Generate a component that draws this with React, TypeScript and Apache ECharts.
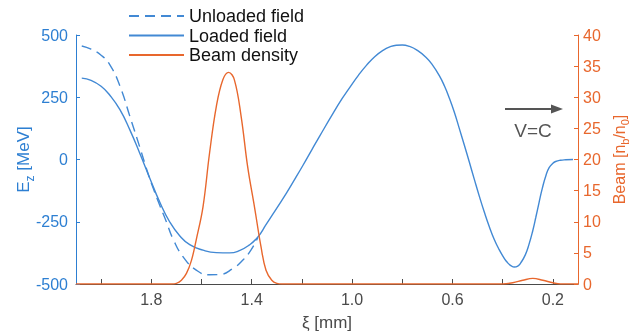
import React, { useEffect, useRef } from "react";
import * as echarts from "echarts";

// ξ [mm] positions and values
const loadedXi = [2.077, 2.04, 2.0, 1.965, 1.925, 1.885, 1.846, 1.806, 1.766, 1.727, 1.687, 1.647, 1.594, 1.541, 1.488, 1.449, 1.409, 1.376, 1.343, 1.3, 1.261, 1.23, 1.195, 1.16, 1.128, 1.076, 1.04, 1.009, 0.975, 0.943, 0.91, 0.877, 0.85, 0.824, 0.8, 0.771, 0.74, 0.705, 0.68, 0.652, 0.632, 0.612, 0.592, 0.573, 0.553, 0.533, 0.513, 0.493, 0.473, 0.454, 0.434, 0.414, 0.395, 0.381, 0.366, 0.354, 0.34, 0.328, 0.31, 0.295, 0.28, 0.268, 0.255, 0.242, 0.228, 0.215, 0.2, 0.189, 0.17, 0.149, 0.12];
const loadedE = [327, 318, 294, 258, 200, 118, 25, -75, -172, -250, -306, -342, -364, -374, -375, -366, -343, -312, -262, -195, -134, -82, -22, 40, 96, 185, 244, 290, 338, 378, 413, 438, 452, 459, 460, 454, 438, 410, 380, 336, 295, 245, 188, 125, 58, -10, -80, -148, -212, -268, -320, -362, -395, -414, -427, -432, -428, -415, -383, -340, -285, -232, -172, -115, -65, -33, -15, -8, -3, -1, 0];

const unloadedXi = [2.077, 2.04, 2.0, 1.965, 1.925, 1.885, 1.846, 1.815, 1.79, 1.766, 1.74, 1.713, 1.674, 1.621, 1.568, 1.528, 1.475, 1.435, 1.402, 1.376];
const unloadedE = [456, 443, 419, 380, 295, 172, 50, -50, -122, -185, -250, -320, -390, -444, -463, -462, -438, -404, -362, -314];

const beamXi = [2.1, 1.72, 1.7, 1.68, 1.66, 1.64, 1.621, 1.594, 1.568, 1.541, 1.515, 1.492, 1.469, 1.442, 1.416, 1.389, 1.363, 1.343, 1.32, 1.3, 1.28, 0.4, 0.36, 0.32, 0.28, 0.24, 0.2, 0.17, 0.1];
const beamN = [0, 0, 0.1, 0.6, 1.7, 3.8, 7.1, 12.4, 21.0, 28.5, 32.8, 34.0, 32.8, 26.9, 18.8, 12.4, 6.0, 2.2, 0.6, 0.1, 0, 0, 0.2, 0.6, 0.9, 0.6, 0.2, 0, 0];

const xLabelValues = [1.8, 1.4, 1.0, 0.6, 0.2];
const xTickValues = [2.0, 1.8, 1.6, 1.4, 1.2, 1.0, 0.8, 0.6, 0.4, 0.2];

const BLUE = "#4289d4";
const BLUE_TXT = "#2d7fd2";
const ORANGE = "#e8672d";
const GRAY = "#4a4a4a";
const FONT = "'Liberation Sans', Arial, sans-serif";

const zip = (a: number[], b: number[]) => a.map((v, i) => [v, b[i]]);

export default function App() {
  const ref = useRef<HTMLDivElement>(null);
  useEffect(() => {
    if (!ref.current) return;
    const chart = echarts.init(ref.current, null, { renderer: "svg" });
    chart.setOption({
      animation: false,
      textStyle: { fontFamily: FONT },
      grid: { left: 76, right: 53, top: 35, bottom: 51, containLabel: false, outerBoundsMode: "none" },
      legend: {
        orient: "vertical",
        left: 128,
        top: 7,
        padding: 0,
        itemWidth: 55,
        itemHeight: 14,
        itemGap: 1.5,
        itemStyle: { opacity: 0 },
        textStyle: { fontSize: 18, color: "#111", fontFamily: FONT, lineHeight: 18 },
        data: ["Unloaded field", "Loaded field", "Beam density"],
      },
      xAxis: {
        type: "value",
        min: 0.1,
        max: 2.1,
        inverse: true,
        name: "ξ [mm]",
        nameLocation: "middle",
        nameGap: 30,
        nameMoveOverlap: false,
        nameTextStyle: { fontSize: 17, color: GRAY, fontFamily: FONT },
        axisLine: { show: true, onZero: false, lineStyle: { color: GRAY, width: 1 } },
        axisTick: { show: true, inside: true, length: 5, customValues: xTickValues, lineStyle: { color: GRAY } },
        axisLabel: {
          customValues: xLabelValues,
          formatter: (v: number) => v.toFixed(1),
          fontSize: 16,
          color: GRAY,
          margin: 7,
          fontFamily: FONT,
        },
        splitLine: { show: false },
      },
      yAxis: [
        {
          type: "value",
          min: -500,
          max: 500,
          interval: 250,
          position: "left",
          name: "{a|E}{s|z}{a| [MeV]}",
          nameLocation: "middle",
          nameRotate: 90,
          nameGap: 44,
          nameMoveOverlap: false,
          nameTextStyle: {
            color: BLUE_TXT,
            rich: {
              a: { fontSize: 17, color: BLUE_TXT, fontFamily: FONT, verticalAlign: "bottom" },
              s: { fontSize: 12, color: BLUE_TXT, fontFamily: FONT, verticalAlign: "bottom", padding: [0, 0, -4, 0] },
            },
          },
          axisLine: { show: true, lineStyle: { color: BLUE_TXT } },
          axisTick: { show: true, inside: true, length: 4, lineStyle: { color: BLUE_TXT } },
          axisLabel: { fontSize: 16, color: BLUE_TXT, margin: 8, fontFamily: FONT },
          splitLine: { show: false },
        },
        {
          type: "value",
          min: 0,
          max: 40,
          interval: 5,
          position: "right",
          name: "{a|Beam [n}{s|b}{a|/n}{s|0}{a|]}",
          nameLocation: "middle",
          nameRotate: 90,
          nameGap: 32,
          nameTextStyle: {
            color: ORANGE,
            rich: {
              a: { fontSize: 16, color: ORANGE, fontFamily: FONT, verticalAlign: "bottom" },
              s: { fontSize: 11, color: ORANGE, fontFamily: FONT, verticalAlign: "bottom", padding: [0, 0, -3, 0] },
            },
          },
          axisLine: { show: true, lineStyle: { color: ORANGE } },
          axisTick: { show: true, inside: true, length: 4, lineStyle: { color: ORANGE } },
          axisLabel: { fontSize: 16, color: ORANGE, margin: 5, fontFamily: FONT },
          splitLine: { show: false },
        },
      ],
      series: [
        {
          name: "Unloaded field",
          type: "line",
          yAxisIndex: 0,
          data: zip(unloadedXi, unloadedE),
          symbol: "none",
          smooth: 0.5,
          lineStyle: { color: BLUE, width: 1.4, type: [10, 6] },
          itemStyle: { color: BLUE },
        },
        {
          name: "Loaded field",
          type: "line",
          yAxisIndex: 0,
          data: zip(loadedXi, loadedE),
          symbol: "none",
          smooth: 0.5,
          lineStyle: { color: BLUE, width: 1.4 },
          itemStyle: { color: BLUE },
        },
        {
          name: "Beam density",
          type: "line",
          yAxisIndex: 1,
          data: zip(beamXi, beamN),
          symbol: "none",
          smooth: 0.4,
          lineStyle: { color: ORANGE, width: 1.4 },
          itemStyle: { color: ORANGE },
        },
      ],
      graphic: [
        {
          type: "line",
          shape: { x1: 505, y1: 109, x2: 555, y2: 109 },
          style: { stroke: "#555", lineWidth: 2.2 },
        },
        {
          type: "polygon",
          shape: { points: [[563, 109], [551, 104.5], [551, 113.5]] },
          style: { fill: "#555" },
        },
        {
          type: "text",
          x: 533,
          y: 130,
          style: {
            text: "V=C",
            fontSize: 19,
            fontFamily: FONT,
            fill: "#555",
            align: "center",
            verticalAlign: "middle",
          },
        },
      ],
    });
    return () => chart.dispose();
  }, []);
  return <div ref={ref} style={{ position: "fixed", left: 0, top: 0, width: 631, height: 335 }} />;
}
